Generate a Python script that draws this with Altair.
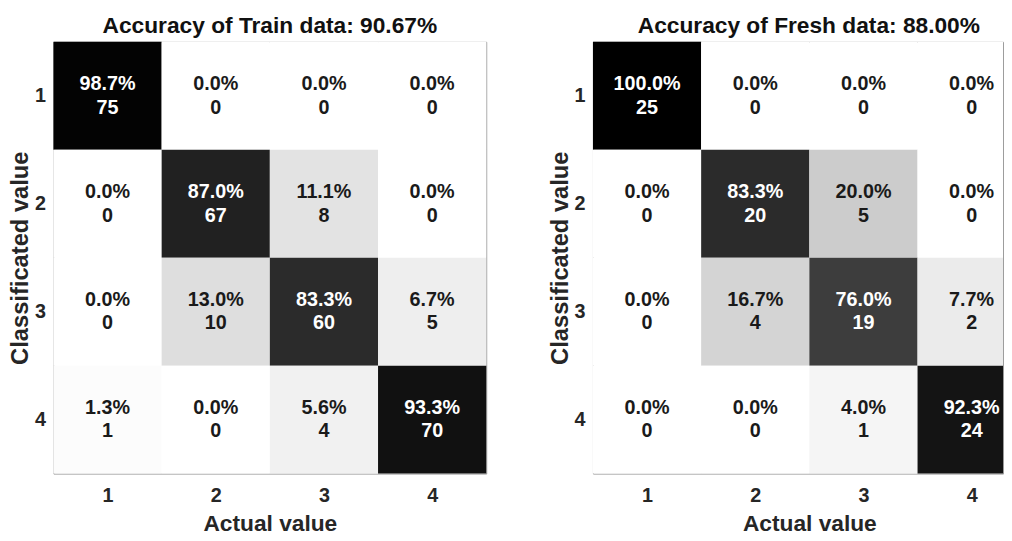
import altair as alt
import pandas as pd

classes = [1, 2, 3, 4]
class_labels = ["1", "2", "3", "4"]

# rows = classified value, columns = actual value
train_counts = [[75, 0, 0, 0], [0, 67, 8, 0], [0, 10, 60, 5], [1, 0, 4, 70]]
train_pct = [[98.7, 0.0, 0.0, 0.0], [0.0, 87.0, 11.1, 0.0], [0.0, 13.0, 83.3, 6.7], [1.3, 0.0, 5.6, 93.3]]
fresh_counts = [[25, 0, 0, 0], [0, 20, 5, 0], [0, 4, 19, 2], [0, 0, 1, 24]]
fresh_pct = [[100.0, 0.0, 0.0, 0.0], [0.0, 83.3, 20.0, 0.0], [0.0, 16.7, 76.0, 7.7], [0.0, 0.0, 4.0, 92.3]]

titles = ["Accuracy of Train data: 90.67%", "Accuracy of Fresh data: 88.00%"]

FONT = "Liberation Sans"
CELL = 109.5


def frame(counts, pct):
    rows = []
    for i, c in enumerate(class_labels):
        for j, a in enumerate(classes):
            rows.append({
                "classified": c,
                "actual": a,
                "pct": pct[i][j],
                "count": counts[i][j],
                "pct_label": f"{pct[i][j]:.1f}%",
                "count_label": str(counts[i][j]),
            })
    return pd.DataFrame(rows)


def panel(counts, pct, title, width, title_dx):
    df = frame(counts, pct)
    x_max = 0.5 + width / CELL
    xscale = alt.Scale(domain=[0.5, x_max], nice=False, zero=False)
    xaxis = alt.Axis(title="Actual value", values=classes, format="d", labelAngle=0,
                     grid=False, ticks=False, tickSize=0, domain=False,
                     labelPadding=12, titlePadding=8, titleX=219, titleFontSize=23,
                     labelFlush=False)
    yenc = alt.Y("classified:O", sort=class_labels,
                 scale=alt.Scale(paddingInner=0, paddingOuter=0),
                 axis=alt.Axis(title="Classificated value", ticks=False, tickSize=0,
                               domain=False, labelPadding=8, titlePadding=2,
                               titleFontSize=24))
    base = alt.Chart(df).transform_calculate(
        x_lo="datum.actual - 0.5",
        x_hi=f"min(datum.actual + 0.5, {x_max})",
    )
    rects = base.mark_rect(strokeWidth=0).encode(
        x=alt.X("x_lo:Q", scale=xscale, axis=xaxis),
        x2="x_hi:Q",
        y=yenc,
        color=alt.Color("pct:Q", legend=None,
                        scale=alt.Scale(domain=[0, 100], range=["#ffffff", "#000000"],
                                        interpolate="rgb")),
    )
    txt_color = alt.condition(alt.datum.pct > 50, alt.value("#ffffff"), alt.value("#1a1a1a"))
    t1 = base.mark_text(font=FONT, fontSize=20, fontWeight="bold", dy=-12).encode(
        x=alt.X("actual:Q", scale=xscale, axis=xaxis), y=yenc,
        text="pct_label:N", color=txt_color)
    t2 = base.mark_text(font=FONT, fontSize=20, fontWeight="bold", dy=12).encode(
        x=alt.X("actual:Q", scale=xscale, axis=xaxis), y=yenc,
        text="count_label:N", color=txt_color)
    return (rects + t1 + t2).properties(
        width=width, height=437,
        title=alt.TitleParams(title, fontSize=23, font=FONT, fontWeight="bold",
                              color="#111111", offset=4, baseline="top",
                              frame="group", anchor="middle", dx=title_dx),
    )


chart = alt.hconcat(
    panel(train_counts, train_pct, titles[0], 438, 0),
    panel(fresh_counts, fresh_pct, titles[1], 415, 11),
    spacing=61,
).properties(
    padding={"left": 0, "top": 3, "right": 0, "bottom": 0},
).configure_view(
    stroke="#9a9a9a", strokeWidth=1
).configure_axis(
    labelFont=FONT, labelFontSize=20, labelFontWeight="bold", labelColor="#262626",
    titleFont=FONT, titleFontWeight="bold", titleColor="#262626",
)

chart.save("out.html", embed_options={"renderer": "svg", "actions": False})
